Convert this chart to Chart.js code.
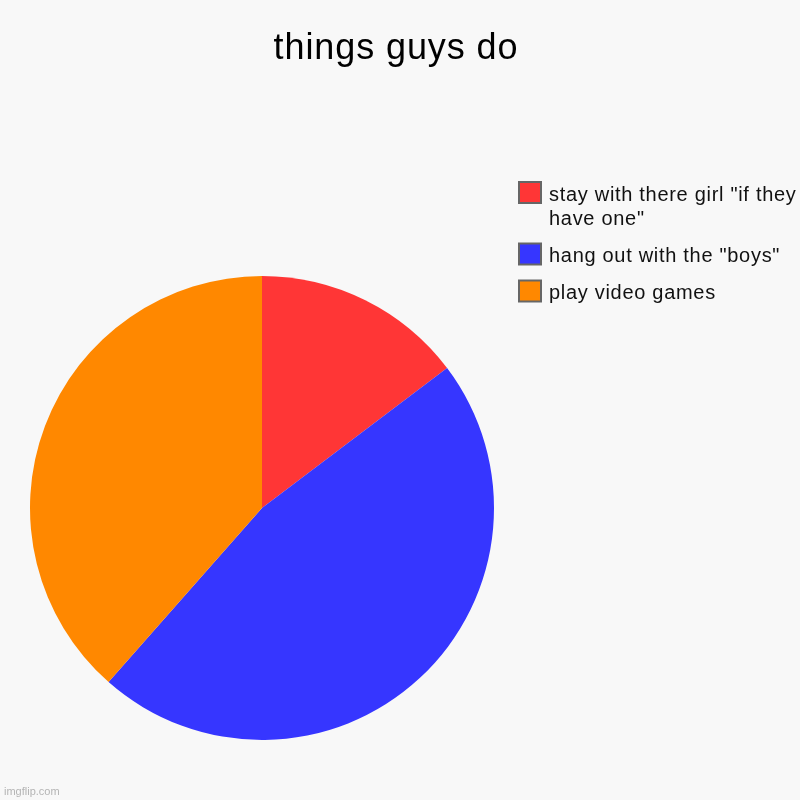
<!DOCTYPE html>
<html>
<head>
<meta charset="utf-8">
<script src="https://cdn.jsdelivr.net/npm/chart.js@4"></script>
<style>
  html, body { margin: 0; padding: 0; background: #f8f8f8; }
  #wrap { width: 800px; height: 800px; }
</style>
</head>
<body>
<div id="wrap"><canvas id="myChart" width="800" height="800"></canvas></div>
<script>
const chartTitle = 'things guys do';
const labels = ['stay with there girl "if they have one"', 'hang out with the "boys"', 'play video games'];
const values = [14.7, 46.8, 38.5];
const colors = ['#ff3636', '#3636ff', '#ff8800'];
const watermark = 'imgflip.com';

const FONT = '"Liberation Sans", Arial, Helvetica, sans-serif';

// split a label into lines no wider than maxWidth
function wrapText(ctx, text, maxWidth) {
    const words = text.split(' ');
    const lines = [];
    let line = '';
    words.forEach(w => {
        const test = line ? line + ' ' + w : w;
        if (line && ctx.measureText(test).width > maxWidth) {
            lines.push(line);
            line = w;
        } else {
            line = test;
        }
    });
    if (line) lines.push(line);
    return lines;
}

// background, title, legend and watermark drawn around the pie
const decorations = {
    id: 'decorations',
    beforeDraw(chart) {
        const ctx = chart.ctx;
        ctx.save();
        ctx.fillStyle = '#f8f8f8';
        ctx.fillRect(0, 0, chart.width, chart.height);
        ctx.restore();
    },
    afterDraw(chart) {
        const ctx = chart.ctx;
        ctx.save();

        // title
        ctx.fillStyle = '#000';
        ctx.font = '36px ' + FONT;
        ctx.letterSpacing = '0.9px';
        ctx.textAlign = 'center';
        ctx.textBaseline = 'alphabetic';
        ctx.fillText(chartTitle, 396, 59);

        // legend
        ctx.font = '20px ' + FONT;
        ctx.letterSpacing = '0.7px';
        ctx.textAlign = 'left';
        const ds = chart.data.datasets[0];
        const lineHeight = 24.5;
        const gap = 12.5;
        let y = 181;
        chart.data.labels.forEach((lab, i) => {
            ctx.fillStyle = ds.backgroundColor[i];
            ctx.fillRect(519, y + 1, 22, 21);
            ctx.strokeStyle = '#666';
            ctx.lineWidth = 2;
            ctx.strokeRect(519, y + 1, 22, 21);
            ctx.fillStyle = '#111';
            const lines = wrapText(ctx, lab, 253);
            lines.forEach((ln, j) => ctx.fillText(ln, 549, y + 19.5 + j * lineHeight));
            y += lines.length * lineHeight + gap;
        });

        // watermark
        ctx.font = '11px ' + FONT;
        ctx.letterSpacing = '0px';
        ctx.fillStyle = '#b4b4b4';
        ctx.fillText(watermark, 4, 795);
        ctx.restore();
    }
};

const ctx = document.getElementById('myChart').getContext('2d');
new Chart(ctx, {
    type: 'pie',
    data: {
        labels: labels,
        datasets: [{
            data: values,
            backgroundColor: colors,
            borderWidth: 0
        }]
    },
    options: {
        responsive: false,
        animation: false,
        layout: {
            padding: { left: 30, right: 306, top: 276, bottom: 60 }
        },
        plugins: {
            legend: { display: false },
            title: { display: false },
            tooltip: { enabled: false }
        }
    },
    plugins: [decorations]
});
</script>
</body>
</html>
